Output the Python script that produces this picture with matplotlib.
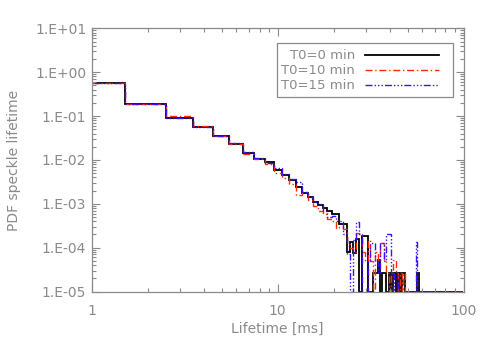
import numpy as np
import matplotlib
matplotlib.use('Agg')
import matplotlib.pyplot as plt
from matplotlib.patches import Rectangle
from matplotlib.ticker import NullFormatter, LogLocator

# PDF of speckle lifetime, one value per 1 ms bin (bin centre = 1, 2, 3 ... ms)
labels = ['T0=0 min', 'T0=10 min', 'T0=15 min']

pdf_t0 = [0.565, 0.185, 0.092, 0.056, 0.035, 0.023, 0.0147, 0.0106, 0.0089, 0.0059,
          0.0045, 0.0035, 0.0024, 0.0018, 0.00145, 0.0011, 0.00093, 0.0008, 0.00068, 0.00058,
          0.00058, 0.00034, 0.00034, 0.00008, 0.000136, 0.000074, 0.00016, 0, 0.00018, 0.00018,
          0, 0, 2.6e-5, 2.6e-5, 5.2e-5, 0, 2.6e-5, 2.6e-5, 0, 2.6e-5,
          0, 2.6e-5, 2.6e-5, 0, 2.6e-5, 0, 2.6e-5, 2.6e-5, 0, 0,
          0, 0, 0, 0, 0, 0, 2.6e-5, 0, 0, 0]

pdf_t10 = [0.57, 0.19, 0.1, 0.058, 0.035, 0.023, 0.0138, 0.0105, 0.0082, 0.005,
           0.0039, 0.0029, 0.0016, 0.0019, 0.0012, 0.0009, 0.0007, 0.0006, 0.00045, 0.0004,
           0.00028, 0.0003, 0.00026, 0.00012, 0.0001, 0.00008, 0.00022, 0.0002, 0.00008, 0.00005,
           0.00015, 0.00005, 0, 0.000078, 0.00005, 0.00013, 0.00013, 0.00005, 2.6e-5, 0,
           2.6e-5, 5.2e-5, 5.2e-5, 2.6e-5, 0, 2.6e-5, 0, 2.6e-5, 0, 0,
           0, 0, 0, 0, 0, 0, 0, 0, 0, 0]

pdf_t15 = [0.56, 0.185, 0.092, 0.055, 0.035, 0.024, 0.0148, 0.011, 0.0087, 0.0067,
           0.0047, 0.0036, 0.0032, 0.0019, 0.0014, 0.0011, 0.001, 0.0007, 0.0005, 0.00052,
           0.0004, 0.0004, 0.0002, 0.00007, 0, 0.00015, 0.00039, 0.0002, 0, 0,
           5e-5, 0.00013, 0.00013, 5e-5, 2.6e-5, 0.00013, 0.00013, 5e-5, 0.00021, 0.00021,
           2.6e-5, 0, 2.6e-5, 2.6e-5, 0, 0, 0, 0, 0, 0,
           0, 0, 0, 0, 0, 0.000136, 0, 0, 0, 0]

nbins = 99
edges = np.arange(0.5, nbins + 1.5, 1.0)
ymin, ymax = 1e-5, 1e1

def full(vals):
    out = np.zeros(nbins)
    out[:len(vals)] = vals
    # IDL-style clipping: empty bins drawn on the bottom axis
    return np.maximum(out, ymin)

grey = '#8a8a8a'
plt.rcParams['font.family'] = ['DejaVu Sans']
plt.rcParams['font.size'] = 10

fig = plt.figure(figsize=(4.91, 3.5), dpi=100)
ax = fig.add_axes([0.187, 0.167, 0.757, 0.752])

styles = [dict(color='black', lw=1.3, ls='-'),
          dict(color='#ff2a00', lw=1.0, ls=(0, (5, 2, 1, 2))),
          dict(color='#3a10ff', lw=1.0, ls=(0, (5, 1.5, 1, 1.5, 1, 1.5, 1, 1.5)))]
series = [pdf_t0, pdf_t10, pdf_t15]

for vals, st in zip(series, styles):
    ax.stairs(full(vals), edges, baseline=None, **st)

ax.set_xscale('log')
ax.set_yscale('log')
ax.set_xlim(1, 100)
ax.set_ylim(ymin, ymax)

ax.set_yticks([1e-5, 1e-4, 1e-3, 1e-2, 1e-1, 1e0, 1e1])
ax.set_yticklabels(['1.E-05', '1.E-04', '1.E-03', '1.E-02', '1.E-01', '1.E+00', '1.E+01'])
ax.yaxis.set_minor_locator(LogLocator(base=10, subs=np.arange(2, 10), numticks=20))
ax.yaxis.set_minor_formatter(NullFormatter())
ax.set_xticks([1, 10, 100])
ax.set_xticklabels(['1', '10', '100'])
ax.xaxis.set_minor_locator(LogLocator(base=10, subs=np.arange(2, 10), numticks=20))
ax.xaxis.set_minor_formatter(NullFormatter())

ax.tick_params(which='both', direction='in', top=True, right=True, color=grey,
               labelcolor=grey, labelsize=10)
ax.tick_params(which='major', length=6, width=0.8, pad=4)
ax.tick_params(which='minor', length=3, width=0.8)
ax.tick_params(axis='x', which='major', pad=9)
for sp in ax.spines.values():
    sp.set_color(grey)
    sp.set_linewidth(0.9)

ax.set_xlabel('Lifetime [ms]', color=grey, fontsize=10, labelpad=3)
ax.set_ylabel('PDF speckle lifetime', color=grey, fontsize=10, labelpad=10)

# legend box drawn by hand, text right aligned as in the original
ax.add_patch(Rectangle((0.4976, 0.7384), 0.475, 0.2053, transform=ax.transAxes,
                       fill=False, edgecolor=grey, lw=0.9, zorder=5))
rows = [0.897, 0.840, 0.783]
for lab, st, yy in zip(labels, styles, rows):
    ax.text(0.708, yy, lab, transform=ax.transAxes, ha='right', va='center',
            color=grey, fontsize=9.5)
    ax.plot([0.735, 0.935], [yy, yy], transform=ax.transAxes, **st)

fig.savefig('out.png', dpi=100)
